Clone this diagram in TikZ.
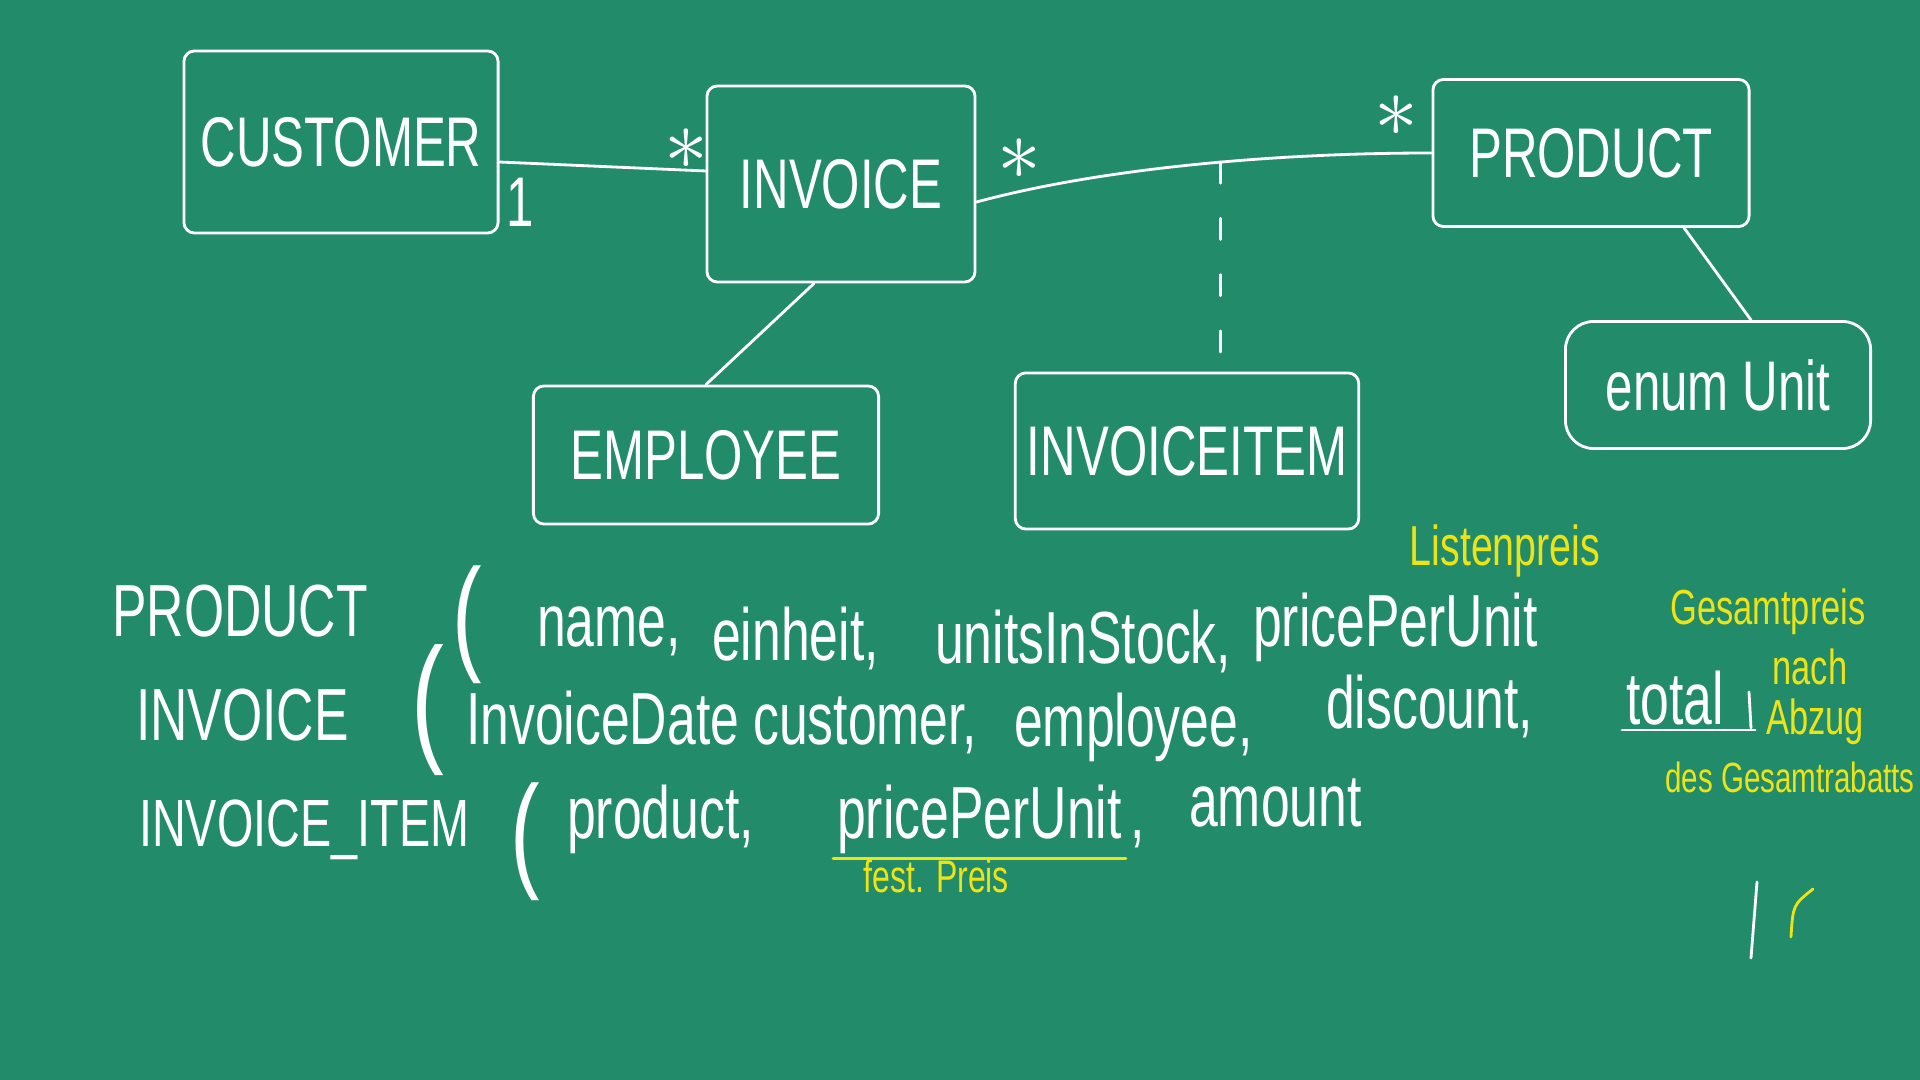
\documentclass[tikz,border=0pt]{standalone}
\usepackage{fontspec}
\newfontfamily\handfont{Liberation Sans}[FakeStretch=0.7]
\usetikzlibrary{positioning}
\definecolor{board}{RGB}{34,139,106}
\definecolor{chalkyellow}{RGB}{236,228,22}

\begin{document}
\begin{tikzpicture}[x=0.01cm, y=-0.01cm,
		chalk/.style={white, line width=0.8pt, line cap=round},
		entity/.style={chalk, draw, rounded corners=3pt, text=white, font=\handfont\fontsize{20}{24}\selectfont},
		word/.style={text=white, anchor=base west, inner sep=1pt, font=\handfont\fontsize{21}{25}\selectfont},
		paren/.style={text=white, inner sep=0pt, font=\handfont\fontsize{36}{40}\selectfont},
		mult/.style={text=white, inner sep=0pt, font=\fontsize{24}{24}\selectfont},
		note/.style={text=chalkyellow, inner sep=0pt, font=\handfont\fontsize{14}{17}\selectfont}]
					% Board
					\fill [board] (0,0) rectangle (1920,1080);
					\useasboundingbox (0,0) rectangle (1920,1080);
					% Entities
					\node [entity, minimum width=3.14cm, minimum height=1.82cm] (customer) at (341,142) {CUSTOMER};
					\node [entity, minimum width=2.68cm, minimum height=1.96cm] (invoice) at (841,184) {INVOICE};
					\node [entity, minimum width=3.16cm, minimum height=1.47cm] (product) at (1591,153) {PRODUCT};
					\node [entity, minimum width=3.45cm, minimum height=1.38cm] (employee) at (706,455) {EMPLOYEE};
					\node [entity, minimum width=3.43cm, minimum height=1.56cm] (item) at (1187,451) {INVOICEITEM};
					\node [entity, minimum width=3.05cm, minimum height=1.27cm, rounded corners=8pt] (unit) at (1718,385) {enum Unit};
					% Associations
					\draw [chalk] ([yshift=-0.2cm]customer.east) -- ([yshift=0.13cm]invoice.west);
					\draw [chalk] ([yshift=-0.18cm]invoice.east) .. controls +(130,-35) and +(-150,0) .. (product.west) coordinate [pos=0.55] (link);
					\draw [chalk, dash pattern=on 6pt off 10pt] (link) -- (link |- item.north);
					\draw [chalk] ([xshift=-0.27cm]invoice.south) -- (employee.north);
					\draw [chalk] ([xshift=0.93cm]product.south) -- ([xshift=0.33cm]unit.north);
					% Multiplicities
					\node [text=white, font=\handfont\fontsize{20}{24}\selectfont] (one) at (520,202) {1};
					\node [mult] (many1) at (686,149) {$\ast$};
					\node [mult] (many2) at (1019,159) {$\ast$};
					\node [mult] (many3) at (1396,116) {$\ast$};
					% Relations
					\node [word] (relproduct) at (108,637) {PRODUCT};
					\node [paren] (open1) at (467,625) {(};
					\node [word] (name) at (533,647) {name,};
					\node [word] (einheit) at (708,661) {einheit,};
					\node [word] (stock) at (931,664) {unitsInStock,};
					\node [word] (listprice) at (1249,647) {pricePerUnit};
					\node [word] (relinvoice) at (132,741) {INVOICE};
					\node [paren, font=\handfont\fontsize{40}{44}\selectfont] (open2) at (428,710) {(};
					\node [word] (date) at (462,745) {InvoiceDate};
					\node [word] (customerattr) at (749,745) {customer,};
					\node [word] (employeeattr) at (1010,747) {employee,};
					\node [word] (discount) at (1322,729) {discount,};
					\node [word] (total) at (1622,725) {total};
					\node [word, font=\handfont\fontsize{19}{23}\selectfont] (relitem) at (135,847) {INVOICE\_ITEM};
					\node [paren] (open3) at (525,842) {(};
					\node [word] (productattr) at (563,839) {product,};
					\node [word] (itemprice) at (833,839) {pricePerUnit};
					\node [word] (comma) at (itemprice.base east) {,};
					\node [word] (amount) at (1185,827) {amount};
					\draw [chalk] (total.south west) -- ([xshift=0.27cm]total.south east);
					\draw [chalk] (1749,692) -- (1751,728);
					% Notes
					\node [note, font=\handfont\fontsize{16}{19}\selectfont] (listenpreis) at (1505,551) {Listenpreis};
					\node [note] (gesamt) at (1768,612) {Gesamtpreis};
					\node [note] (nach) at (1810,667) {nach};
					\node [note] (abzug) at (1815,722) {Abzug};
					\node [note, font=\handfont\fontsize{12}{14}\selectfont] (rabatt) at (1790,777) {des Gesamtrabatts};
					\draw [chalk, chalkyellow] (itemprice.south west) -- (itemprice.south east);
					\node [note, font=\handfont\fontsize{13}{15}\selectfont, anchor=north west] (fixed) at ([xshift=0.3cm]itemprice.south west) {fest. Preis};
					% Strokes
					\draw [chalk] (1757,882) -- (1751,958);
					\draw [chalk, chalkyellow] (1791,937) .. controls (1793,905) .. (1813,889);
				\end{tikzpicture}
\end{document}
